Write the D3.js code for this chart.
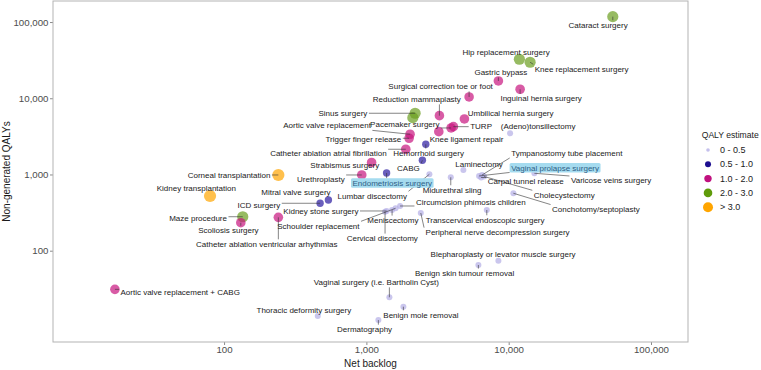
<!DOCTYPE html>
<html>
<head>
<meta charset="utf-8">
<script src="https://cdn.jsdelivr.net/npm/d3@7"></script>
<style>
  body { margin: 0; background: #fff; }
  text { font-family: "Liberation Sans", Arial, Helvetica, sans-serif; }
</style>
</head>
<body>
<svg id="chart" width="761" height="370"></svg>
<script>
// procedures, values
const procedures = [
  "Cataract surgery", "Hip replacement surgery", "Knee replacement surgery", "Gastric bypass",
  "Inguinal hernia surgery", "Surgical correction toe or foot", "Reduction mammaplasty",
  "Umbilical hernia surgery", "Sinus surgery", "", "(Adeno)tonsillectomy", "TURP",
  "Pacemaker surgery", "Knee ligament repair", "Aortic valve replacement", "Trigger finger release",
  "Catheter ablation atrial fibrillation", "Hemorrhoid surgery", "CABG", "Strabismus surgery",
  "Urethroplasty", "Endometriosis surgery", "Lumbar discectomy", "Midurethral sling", "Laminectomy",
  "Tympanostomy tube placement", "Vaginal prolapse surgery", "Carpal tunnel release", "Cholecystectomy",
  "Varicose veins surgery", "Conchotomy/septoplasty", "Circumcision phimosis children",
  "Schoulder replacement", "Meniscectomy", "Cervical discectomy", "Kidney stone surgery",
  "Transcervical endoscopic surgery", "Peripheral nerve decompression surgery",
  "Corneal transplantation", "Kidney transplantation", "ICD surgery", "Mitral valve surgery",
  "Maze procedure", "Scoliosis surgery", "Catheter ablation ventricular arhythmias",
  "Aortic valve replacement + CABG", "Vaginal surgery (i.e. Bartholin Cyst)",
  "Thoracic deformity surgery", "Benign mole removal", "Dermatography",
  "Blepharoplasty or levator muscle surgery", "Benign skin tumour removal"
];
const netBacklog = [
  53900, 11890, 14140, 8465, 12030, 5270, 3260, 4885, 2200, 2120, 10230, 4087, 3937, 3228, 2028,
  1996, 1892, 2615, 2475, 1088, 928, 1387, 2772, 3918, 4805, 6503, 6194, 6400, 6716, 15160, 10790,
  1725, 1604, 1516, 1353, 1387, 7016, 2412, 240.7, 79.7, 473, 541, 135.3, 131.1, 240.7, 17.1,
  1451, 455.5, 1820, 1214, 8465, 6125
];
const nonGeneratedQalys = [
  117700, 32500, 29680, 16870, 13130, 10400, 5910, 5350, 6355, 5565, 3473, 4240, 4076, 3645, 3370,
  2987, 2142, 2490, 1536, 1437, 985, 1046, 1006, 919, 1146, 985, 956, 913, 941, 1037, 567,
  386, 360, 342, 325, 332, 342, 312, 985, 522, 419, 463, 279, 233, 274, 31.1,
  24.5, 13.9, 18.4, 12.3, 73.9, 64.9
];
// index into qalyBins
const qalyGroup = [
  3, 3, 3, 2, 2, 2, 2, 2, 3, 3, 0, 2, 2, 2, 2,
  2, 2, 1, 1, 2, 2, 1, 0, 0, 0, 0, 0, 0, 0, 0, 0,
  0, 0, 0, 0, 0, 0, 0, 4, 4, 1, 1, 3, 2, 2, 2,
  0, 0, 0, 0, 0, 0
];
const qalyBins = ["0 - 0.5", "0.5 - 1.0", "1.0 - 2.0", "2.0 - 3.0", "> 3.0"];
const highlighted = ["Endometriosis surgery", "Vaginal prolapse surgery"];
const xTicks = [100, 1000, 10000, 100000];
const yTicks = [100, 1000, 10000, 100000];

// label placement as the repel step left it (pixel offset of label centre from its point)
const labelNudge = [
  [-14.7, 8.3], [-13.3, -7.3], [51.5, 6.7], [2.5, -8.3], [21, 9.4], [-28.5, -10.3], [-22.6, -16],
  [46.2, -6], [-72.2, 0], [0, 0], [28, -7.3], [27.7, -0.4], [-46.3, -3.3], [27.8, 7.6], [-83, -8.6],
  [-45.7, 0.7], [-77.4, 4], [2.8, 9], [-14, 7.7], [-26.8, 3.2], [-40.9, 4.3], [5.7, 10], [-57.1, 21.7],
  [1.3, 12.7], [15.7, -6], [84.7, -21.7], [76, -8.2], [44.7, 4.2], [80.2, 18.5], [76.7, 7.4], [82.5, 16],
  [70.8, -3.3], [-77.2, 17.7], [0.8, 10.3], [-2.8, 26.6], [-65.7, 0.7], [-1.7, 10], [76.8, 19.3],
  [-49.3, 0], [-13.7, -7.7], [-61.2, 1.7], [-32.5, -7.3], [-44.7, 1.6], [-12.4, 7.8], [-11.6, 26.7],
  [65.3, 3], [-13, -14.6], [-13.9, -6], [17.5, 8.3], [-13.8, 9.3], [4.7, -6.7], [-13.8, 8.3]
];

const colors = ["#b3aee6", "#2a1aa0", "#c8157f", "#6b9e1f", "#ffa500"];
const legendColors = ["#c4c0ec", "#1d0f90", "#c0117f", "#5f9b0a", "#ffa500"];
const radius = [3, 3.7, 4.8, 5.6, 6.1];
const legendRadius = [1.8, 3, 3.7, 4.3, 5];

const panel = { left: 53, right: 688, top: 1, bottom: 342 };
const svg = d3.select("#chart");

const x = d3.scaleLog().domain([6.28, 181970]).range([panel.left, panel.right]);
const y = d3.scaleLog().domain([6.34, 188800]).range([panel.bottom, panel.top]);

const rows = procedures.map((name, i) => ({
  name,
  backlog: netBacklog[i],
  qaly: nonGeneratedQalys[i],
  group: qalyGroup[i],
  nudge: labelNudge[i],
}));

// axes
const fmt = d3.format(",");
const yAxis = svg.append("g")
  .attr("transform", `translate(${panel.left},0)`)
  .call(d3.axisLeft(y).tickValues(yTicks).tickFormat(fmt).tickSize(3).tickPadding(1.5));
const xAxis = svg.append("g")
  .attr("transform", `translate(0,${panel.bottom})`)
  .call(d3.axisBottom(x).tickValues(xTicks).tickFormat(fmt).tickSize(3).tickPadding(1.5));
[xAxis, yAxis].forEach((a) => {
  a.select(".domain").remove();
  a.selectAll(".tick line").attr("stroke", "#8a8a8a");
  a.selectAll(".tick text").attr("fill", "#4d4d4d").style("font-size", "9.7px")
    .style("font-family", '"Liberation Sans", Arial, sans-serif');
});

svg.append("rect")
  .attr("x", panel.left).attr("y", panel.top)
  .attr("width", panel.right - panel.left).attr("height", panel.bottom - panel.top)
  .attr("fill", "none").attr("stroke", "#b3b3b3").attr("stroke-width", 1);

svg.append("text")
  .attr("x", (panel.left + panel.right) / 2).attr("y", 367)
  .attr("text-anchor", "middle").style("font-size", "10px").attr("fill", "#1a1a1a")
  .text("Net backlog");
svg.append("text")
  .attr("transform", `translate(10,${(panel.top + panel.bottom) / 2}) rotate(-90)`)
  .attr("text-anchor", "middle").style("font-size", "10px").attr("fill", "#1a1a1a")
  .text("Non-generated QALYs");

// points
svg.append("g").selectAll("circle")
  .data(rows)
  .join("circle")
  .attr("cx", (d) => x(d.backlog))
  .attr("cy", (d) => y(d.qaly))
  .attr("r", (d) => radius[d.group])
  .attr("fill", (d) => colors[d.group])
  .attr("fill-opacity", 0.7);

// labels
const labelled = rows.filter((d) => d.name);
const segLayer = svg.append("g");
const labLayer = svg.append("g");
labelled.forEach((d) => {
  const px = x(d.backlog), py = y(d.qaly);
  const cx = px + d.nudge[0], cy = py + d.nudge[1];
  const hl = highlighted.includes(d.name);
  const g = labLayer.append("g");
  const bg = g.append("rect");
  const t = g.append("text")
    .attr("x", cx).attr("y", cy).attr("dy", "0.35em")
    .attr("text-anchor", "middle")
    .style("font-size", "8px")
    .attr("fill", hl ? "#2f5f86" : "#1a1a1a")
    .text(d.name);
  const w = t.node().getComputedTextLength();
  const x0 = cx - w / 2 - 1.5, x1 = cx + w / 2 + 1.5, y0 = cy - 4.7, y1 = cy + 4.7;
  if (hl) {
    bg.attr("x", x0).attr("y", y0).attr("width", x1 - x0).attr("height", y1 - y0)
      .attr("rx", 1.5).attr("fill", "#a5dbef");
  } else {
    bg.remove();
  }
  const ex = Math.max(x0, Math.min(x1, px)), ey = Math.max(y0, Math.min(y1, py));
  if (Math.hypot(ex - px, ey - py) > 3) {
    segLayer.append("line")
      .attr("x1", px).attr("y1", py).attr("x2", ex).attr("y2", ey)
      .attr("stroke", "#333").attr("stroke-width", 0.6);
  }
});

// legend
const legend = svg.append("g").attr("transform", "translate(701.7,0)");
legend.append("text").attr("x", 0).attr("y", 138)
  .style("font-size", "8.6px").attr("fill", "#1a1a1a").text("QALY estimate");
const items = legend.selectAll("g.item").data(qalyBins).join("g")
  .attr("class", "item")
  .attr("transform", (d, i) => `translate(0,${150 + i * 14.3})`);
items.append("circle").attr("cx", 6.3).attr("cy", 0)
  .attr("r", (d, i) => legendRadius[i]).attr("fill", (d, i) => legendColors[i]);
items.append("text").attr("x", 18.3).attr("dy", "0.35em")
  .style("font-size", "9px").attr("fill", "#1a1a1a").text((d) => d);
</script>
</body>
</html>
